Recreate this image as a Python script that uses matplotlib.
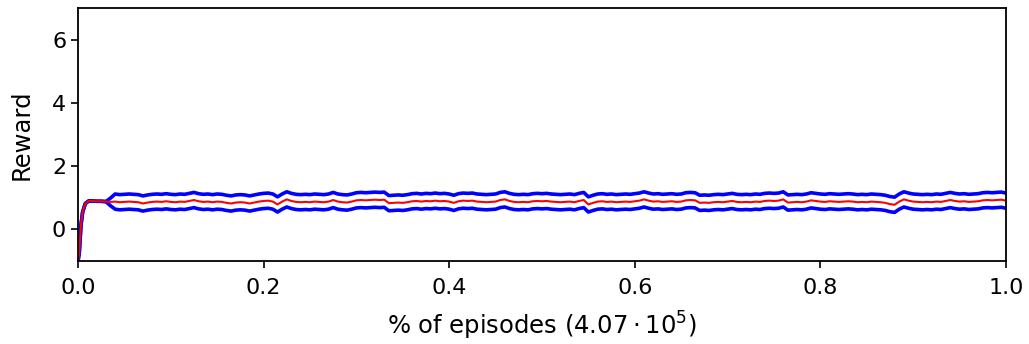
import matplotlib.pyplot as plt
import numpy as np

# warm-up at the very start of training
rise_x = [0.0, 0.0014, 0.0032, 0.005, 0.0079, 0.0115]
rise_mean = [-1.0, -0.72, 0.13, 0.55, 0.82, 0.90]

# mean reward, read every 0.005 from 0.015 to 1.0
mean_vals = [
    0.90, 0.89, 0.89, 0.88,
    0.87, 0.88, 0.86, 0.87, 0.88, 0.87, 0.86,
    0.82, 0.85, 0.87, 0.88, 0.87, 0.89, 0.87, 0.86, 0.88, 0.87,
    0.90, 0.93, 0.89, 0.87, 0.88, 0.86, 0.88, 0.87, 0.84, 0.82,
    0.85, 0.86, 0.85, 0.82, 0.85, 0.88, 0.90, 0.91, 0.88, 0.79,
    0.88, 0.95, 0.90, 0.87, 0.86, 0.87, 0.86, 0.88, 0.87, 0.86,
    0.88, 0.93, 0.88, 0.86, 0.85, 0.88, 0.92, 0.93, 0.92, 0.93,
    0.94, 0.93, 0.94, 0.83, 0.84, 0.85, 0.84, 0.86, 0.89, 0.90,
    0.88, 0.90, 0.89, 0.91, 0.89, 0.90, 0.88, 0.84, 0.89, 0.91,
    0.90, 0.91, 0.88, 0.87, 0.86, 0.87, 0.88, 0.93, 0.95, 0.90,
    0.87, 0.86, 0.87, 0.86, 0.89, 0.90, 0.89, 0.90, 0.88, 0.87,
    0.86, 0.87, 0.88, 0.86, 0.90, 0.93, 0.79, 0.84, 0.88, 0.89,
    0.87, 0.88, 0.86, 0.87, 0.88, 0.87, 0.89, 0.91, 0.95, 0.91,
    0.88, 0.89, 0.87, 0.88, 0.89, 0.87, 0.88, 0.92, 0.93, 0.92,
    0.84, 0.85, 0.84, 0.86, 0.87, 0.86, 0.88, 0.90, 0.87, 0.86,
    0.87, 0.86, 0.88, 0.87, 0.90, 0.91, 0.90, 0.91, 0.95, 0.85,
    0.86, 0.87, 0.86, 0.88, 0.92, 0.90, 0.88, 0.87, 0.89, 0.88,
    0.87, 0.88, 0.89, 0.88, 0.86, 0.87, 0.86, 0.88, 0.87, 0.86,
    0.84, 0.80, 0.78, 0.88, 0.95, 0.91, 0.88, 0.87, 0.86, 0.87,
    0.86, 0.88, 0.87, 0.90, 0.93, 0.90, 0.88, 0.89, 0.87, 0.88,
    0.89, 0.92, 0.93, 0.92, 0.93, 0.94, 0.91,
]

# width of the band around the mean (bands join the mean early on)
band_start = [0.0, 0.0, 0.0, 0.0, 0.0, 0.0, 0.0, 0.0, 0.0, 0.0, 0.12]
band_rest = 0.24

x = np.concatenate([rise_x, np.linspace(0.015, 1.0, len(mean_vals))])
mean = np.concatenate([rise_mean, mean_vals])
band = np.full(len(mean), band_rest)
band[:len(band_start)] = band_start

fig = plt.figure(figsize=(10.29, 3.44), dpi=100)
ax = fig.add_axes([0.0758, 0.241, 0.9018, 0.736])
ax.plot(x, mean + band, color='blue', lw=2.6)
ax.plot(x, mean - band, color='blue', lw=2.6)
ax.plot(x, mean, color='red', lw=1.5)

ax.set_xlim(0, 1)
ax.set_ylim(-1, 7)
ax.set_yticks([0, 2, 4, 6])
ax.set_xticks([0.0, 0.2, 0.4, 0.6, 0.8, 1.0])
ax.tick_params(labelsize=16, width=1.2, length=5)
ax.tick_params(axis='x', pad=7)
for s in ax.spines.values():
    s.set_linewidth(1.3)
ax.set_xlabel(r'% of episodes ($4.07 \cdot 10^5$)', fontsize=17.5, labelpad=8.5)
ax.set_ylabel('Reward', fontsize=17.5, labelpad=13)

fig.savefig('out.png', dpi=100)
